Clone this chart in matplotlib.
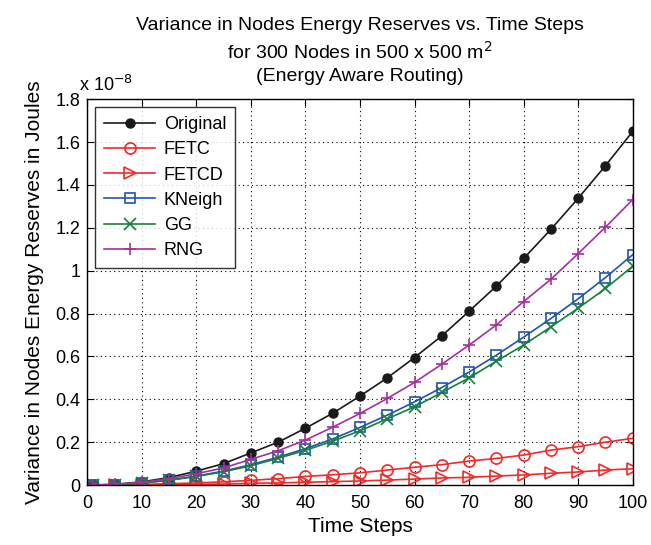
import matplotlib.pyplot as plt

plt.rcParams['font.family'] = ['Liberation Sans', 'DejaVu Sans']

# time steps
steps = [1, 5, 10, 15, 20, 25, 30, 35, 40, 45, 50,
         55, 60, 65, 70, 75, 80, 85, 90, 95, 100]

# variance values, in units of 1e-8 J
original = [0, 0.003, 0.015, 0.035, 0.065, 0.10, 0.15, 0.20, 0.265, 0.335, 0.415,
            0.500, 0.595, 0.696, 0.811, 0.928, 1.057, 1.193, 1.338, 1.490, 1.650]
fetc = [0, 0.001, 0.003, 0.006, 0.010, 0.015, 0.022, 0.030, 0.040, 0.048, 0.057,
        0.070, 0.083, 0.095, 0.112, 0.124, 0.140, 0.163, 0.179, 0.200, 0.218]
fetcd = [0, 0, 0.001, 0.002, 0.003, 0.005, 0.008, 0.010, 0.013, 0.016, 0.019,
         0.023, 0.028, 0.033, 0.036, 0.042, 0.047, 0.055, 0.061, 0.070, 0.076]
kneigh = [0, 0.002, 0.010, 0.023, 0.042, 0.065, 0.095, 0.130, 0.170, 0.215, 0.269,
          0.326, 0.388, 0.455, 0.527, 0.606, 0.690, 0.777, 0.869, 0.968, 1.075]
gg = [0, 0.002, 0.009, 0.022, 0.040, 0.062, 0.090, 0.125, 0.162, 0.205, 0.253,
      0.309, 0.365, 0.432, 0.500, 0.578, 0.653, 0.738, 0.825, 0.917, 1.021]
rng = [0, 0.003, 0.013, 0.030, 0.053, 0.080, 0.120, 0.160, 0.210, 0.270, 0.334,
       0.404, 0.479, 0.564, 0.653, 0.747, 0.856, 0.960, 1.080, 1.203, 1.332]

fig = plt.figure(figsize=(6.51, 5.45), dpi=100)
ax = fig.add_axes([0.134, 0.110, 0.838, 0.708])

red = '#ee2a2a'
ax.plot(steps, original, '-o', color='#1a1a1a', mfc='#1a1a1a', ms=6.5, lw=1.2, label='Original')
ax.plot(steps, fetc, '-o', color=red, mfc='none', ms=8, mew=1.2, lw=1.2, label='FETC')
ax.plot(steps, fetcd, '->', color=red, mfc='none', ms=8, mew=1.2, lw=1.2, label='FETCD')
ax.plot(steps, kneigh, '-s', color='#1f55b0', mfc='none', ms=7, mew=1.2, lw=1.2, label='KNeigh')
ax.plot(steps, gg, '-x', color='#17803a', ms=8, mew=1.2, lw=1.2, label='GG')
ax.plot(steps, rng, '-+', color='#a3309e', ms=9, mew=1.2, lw=1.2, label='RNG')

ax.set_xlim(0, 100)
ax.set_ylim(0, 1.8)
ax.set_xticks(range(0, 101, 10))
ax.set_yticks([0, 0.2, 0.4, 0.6, 0.8, 1.0, 1.2, 1.4, 1.6, 1.8])
ax.set_yticklabels(['0', '0.2', '0.4', '0.6', '0.8', '1', '1.2', '1.4', '1.6', '1.8'])
ax.tick_params(direction='in', top=True, right=True, labelsize=13, length=5)
ax.tick_params(axis='x', pad=7)
ax.tick_params(axis='y', pad=5)
ax.grid(True, linestyle=(0, (1, 3)), color='k', lw=0.8)
for s in ax.spines.values():
    s.set_linewidth(1.0)

ax.text(-0.015, 1.012, r'x 10$^{-8}$', transform=ax.transAxes, fontsize=13,
        ha='left', va='bottom')

ax.set_xlabel('Time Steps', fontsize=15, labelpad=4)
ax.set_ylabel('Variance in Nodes Energy Reserves in Joules', fontsize=15, labelpad=8)
ax.set_title('Variance in Nodes Energy Reserves vs. Time Steps\n'
             r'for 300 Nodes in 500 x 500 m$^2$' '\n(Energy Aware Routing)',
             fontsize=14, pad=13, linespacing=1.38)

leg = ax.legend(loc='upper left', fontsize=13, handlelength=2.8, handletextpad=0.5,
                frameon=True, fancybox=False, edgecolor='k', borderaxespad=0.45,
                labelspacing=0.45, borderpad=0.5)
leg.get_frame().set_linewidth(1.0)

fig.savefig('out.png', dpi=100)
